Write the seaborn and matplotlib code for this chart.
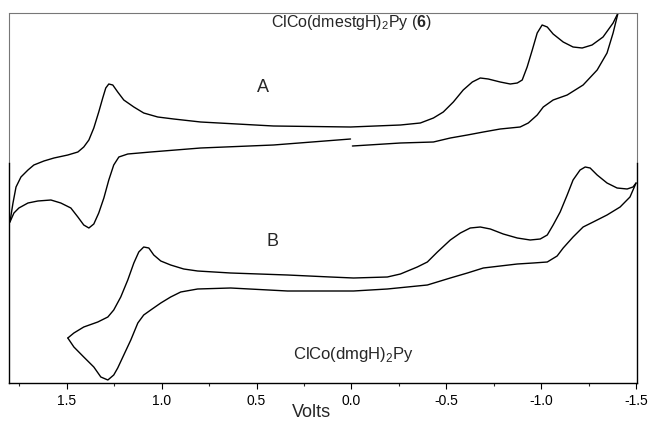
import matplotlib
matplotlib.use("Agg")
import matplotlib.pyplot as plt
import seaborn as sns

# CV traces, potential in V, current in arbitrary units
a_fwd_v = [1.800, 1.784, 1.768, 1.742, 1.705, 1.674, 1.621, 1.568, 1.495, 1.442, 1.411, 1.384,
           1.358, 1.332, 1.311, 1.295, 1.279, 1.258, 1.232, 1.200, 1.147, 1.095, 1.021, 0.937,
           0.795, 0.411, 0.005, -0.258, -0.363, -0.432, -0.484, -0.537, -0.589, -0.637,
           -0.679, -0.721, -0.784, -0.837, -0.874, -0.900, -0.926, -0.953, -0.979, -1.005,
           -1.032, -1.063, -1.116, -1.168, -1.216, -1.268, -1.326, -1.379, -1.405]
a_fwd_i = [161, 180, 196, 206, 213, 218, 222, 225, 228, 231, 236, 243,
           255, 271, 285, 295, 299, 298, 291, 283, 276, 270, 266, 264,
           261, 257, 256, 258, 260, 265, 271, 281, 293, 301,
           305, 304, 301, 299, 300, 303, 316, 333, 350, 358,
           356, 349, 341, 336, 335, 338, 346, 360, 370]

a_rev1_v = [-1.405, -1.379, -1.347, -1.295, -1.221, -1.137, -1.063, -1.011, -0.979, -0.932,
            -0.889, -0.784, -0.695, -0.611, -0.521, -0.432, -0.258, -0.005]
a_rev1_i = [370, 350, 330, 313, 298, 288, 283, 276, 268, 260,
            256, 254, 251, 248, 245, 241, 240, 237]

a_rev2_v = [0.005, 0.411, 0.795, 1.058, 1.179, 1.226, 1.253, 1.279, 1.305, 1.332, 1.358,
            1.384, 1.411, 1.442, 1.479, 1.532, 1.584, 1.653, 1.705, 1.753, 1.779, 1.800]
a_rev2_i = [244, 238, 235, 231, 229, 226, 218, 203, 185, 170, 159,
            155, 158, 166, 175, 180, 183, 182, 180, 175, 170, 161]

b_fwd_v = [1.495, 1.463, 1.411, 1.337, 1.284, 1.253, 1.216, 1.179, 1.147, 1.121, 1.095,
           1.068, 1.042, 1.005, 0.953, 0.884, 0.811, 0.637, 0.337, 0.111, -0.011, -0.189,
           -0.258, -0.347, -0.400, -0.453, -0.521, -0.574, -0.626, -0.679, -0.732, -0.800,
           -0.874, -0.942, -0.995, -1.032, -1.063, -1.100, -1.137, -1.168, -1.205, -1.232,
           -1.258, -1.295, -1.347, -1.400, -1.453, -1.484, -1.500]
b_fwd_i = [45, 50, 56, 61, 66, 73, 86, 103, 120, 131, 136,
           135, 128, 122, 118, 114, 112, 110, 108, 106, 105, 106,
           109, 116, 121, 131, 143, 150, 155, 156, 154, 149,
           145, 143, 144, 148, 158, 171, 188, 203, 213, 216,
           215, 208, 200, 195, 194, 196, 200]

b_rev_v = [-1.500, -1.468, -1.416, -1.347, -1.274, -1.221, -1.168, -1.116, -1.084, -1.032,
           -0.958, -0.874, -0.784, -0.695, -0.611, -0.521, -0.400, -0.189, -0.011, 0.337,
           0.637, 0.811, 0.900, 0.953, 1.005, 1.058, 1.095, 1.126, 1.163, 1.200, 1.232,
           1.253, 1.284, 1.321, 1.358, 1.411, 1.463, 1.495]
b_rev_i = [200, 186, 176, 168, 161, 156, 146, 135, 127, 121,
           120, 119, 117, 115, 110, 105, 98, 94, 92, 92,
           95, 94, 91, 86, 80, 73, 68, 60, 43, 28, 15,
           8, 3, 6, 16, 26, 36, 45]

sns.set_style("ticks")
plt.rcParams["font.family"] = ["Liberation Sans", "DejaVu Sans"]
plt.rcParams["mathtext.fontset"] = "custom"
plt.rcParams["mathtext.rm"] = "Liberation Sans"
plt.rcParams["mathtext.bf"] = "Liberation Sans:bold"

fig = plt.figure(figsize=(6.52, 4.23), dpi=100)
ax = fig.add_axes([9 / 652, 1 - 383 / 423, 628 / 652, 370 / 423])

for v, i in [(a_fwd_v, a_fwd_i), (a_rev1_v, a_rev1_i), (a_rev2_v, a_rev2_i),
             (b_fwd_v, b_fwd_i), (b_rev_v, b_rev_i)]:
    sns.lineplot(x=v, y=i, sort=False, estimator=None, color="black", lw=1.0, ax=ax)

ax.set_xlim(1.805, -1.505)
ax.set_ylim(0, 370)
ax.set_xticks([1.5, 1.0, 0.5, 0.0, -0.5, -1.0, -1.5])
ax.set_xticklabels(["1.5", "1.0", "0.5", "0.0", "-0.5", "-1.0", "-1.5"])
ax.set_xticks([1.75, 1.25, 0.75, 0.25, -0.25, -0.75, -1.25], minor=True)
ax.set_yticks([])
ax.tick_params(axis="x", which="major", direction="out", length=4, width=0.8,
               labelsize=10, pad=4, colors="black")
ax.tick_params(axis="x", which="minor", direction="out", length=2.5, width=0.8)
ax.set_xlabel("Volts", fontsize=13, labelpad=0)
ax.xaxis.set_label_coords(0.482, -0.056)

# frame: upper part grey, lower part black
split = 220
for side in ["left", "right"]:
    ax.spines[side].set_bounds(0, split)
    ax.spines[side].set_color("black")
    ax.spines[side].set_linewidth(1.0)
ax.spines["bottom"].set_color("black")
ax.spines["bottom"].set_linewidth(1.0)
ax.spines["top"].set_color("#777777")
ax.spines["top"].set_linewidth(0.8)
for xv in [1.805, -1.505]:
    ax.plot([xv, xv], [split, 370], color="#777777", lw=0.8, clip_on=False)

ax.text(0.0, 361, r"ClCo(dmestgH)$_2$Py ($\mathbf{6}$)", fontsize=11.5, ha="center", va="center")
ax.text(0.468, 296, "A", fontsize=13, ha="center", va="center")
ax.text(0.416, 141, "B", fontsize=13, ha="center", va="center")
ax.text(-0.011, 28, r"ClCo(dmgH)$_2$Py", fontsize=12, ha="center", va="center")

plt.savefig("out.png", dpi=100)
